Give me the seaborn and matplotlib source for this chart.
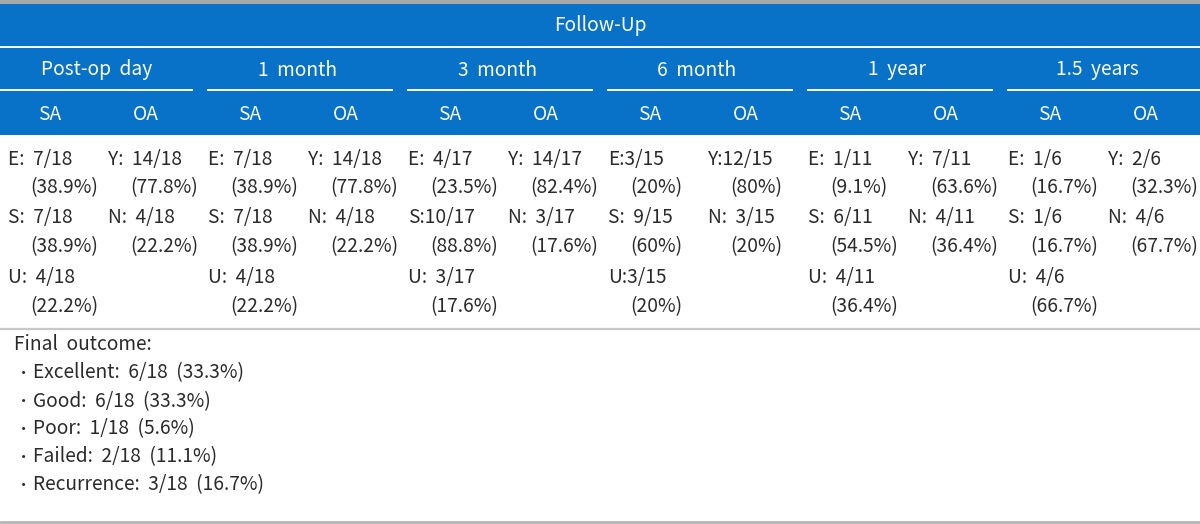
import matplotlib
matplotlib.use("Agg")
import matplotlib.pyplot as plt
import seaborn as sns

# ---------------- data ----------------
title = "Follow-Up"
periods = ["Post-op  day", "1  month", "3  month", "6  month", "1  year", "1.5  years"]
groups = ["SA", "OA"]

sa_cells = [
    ["E:  7/18", "(38.9%)", "S:  7/18", "(38.9%)", "U:  4/18", "(22.2%)"],
    ["E:  7/18", "(38.9%)", "S:  7/18", "(38.9%)", "U:  4/18", "(22.2%)"],
    ["E:  4/17", "(23.5%)", "S:10/17", "(88.8%)", "U:  3/17", "(17.6%)"],
    ["E:3/15", "(20%)", "S:  9/15", "(60%)", "U:3/15", "(20%)"],
    ["E:  1/11", "(9.1%)", "S:  6/11", "(54.5%)", "U:  4/11", "(36.4%)"],
    ["E:  1/6", "(16.7%)", "S:  1/6", "(16.7%)", "U:  4/6", "(66.7%)"],
]
oa_cells = [
    ["Y:  14/18", "(77.8%)", "N:  4/18", "(22.2%)"],
    ["Y:  14/18", "(77.8%)", "N:  4/18", "(22.2%)"],
    ["Y:  14/17", "(82.4%)", "N:  3/17", "(17.6%)"],
    ["Y:12/15", "(80%)", "N:  3/15", "(20%)"],
    ["Y:  7/11", "(63.6%)", "N:  4/11", "(36.4%)"],
    ["Y:  2/6", "(32.3%)", "N:  4/6", "(67.7%)"],
]
final_title = "Final  outcome:"
final_items = [
    "Excellent:  6/18  (33.3%)",
    "Good:  6/18  (33.3%)",
    "Poor:  1/18  (5.6%)",
    "Failed:  2/18  (11.1%)",
    "Recurrence:  3/18  (16.7%)",
]

# ---------------- style ----------------
sns.set_theme(style="white")
plt.rcParams["font.family"] = ["Noto Sans CJK KR", "DejaVu Sans"]

BLUE = "#0872C9"
TXT = "#2a2a2a"
GRAY = "#b4b4b4"
FS = 13.8
FW = "light"

fig = plt.figure(figsize=(12, 5.24), dpi=100)
ax = fig.add_axes([0, 0, 1, 1])
ax.set_xlim(0, 1200)
ax.set_ylim(524, 0)
ax.axis("off")

# header background
ax.axhspan(4, 135, color=BLUE, lw=0)
ax.axhspan(0, 4, color="#a9a9a9", lw=0)
ax.axhline(46.5, color="white", lw=1.4)
ncol = len(periods)
w = 1200 / ncol
for i, p in enumerate(periods):
    x0 = i * w + (0 if i == 0 else 7)
    x1 = (i + 1) * w - (0 if i == ncol - 1 else 7)
    ax.plot([x0, x1], [90, 90], color="white", lw=1.4, solid_capstyle="butt")
    ax.text(i * w + w / 2 - 3, 70, p, color="white", fontsize=FS, fontweight=FW,
            ha="center", va="center")
    for j, g in enumerate(groups):
        cx = i * w + (50 if j == 0 else 146)
        ax.text(cx, 114, g, color="white", fontsize=FS, fontweight=FW,
                ha="center", va="center")
ax.text(600, 25, title, color="white", fontsize=FS, fontweight=FW,
        ha="center", va="center")

# body
row_y = [159, 188, 218, 247, 278, 307]
for i in range(ncol):
    for k, s in enumerate(sa_cells[i]):
        x = i * w + (8 if k % 2 == 0 else 30)
        ax.text(x, row_y[k], s, color=TXT, fontsize=FS, fontweight=FW,
                ha="left", va="center")
    for k, s in enumerate(oa_cells[i]):
        x = i * w + 100 + (8 if k % 2 == 0 else 30)
        ax.text(x, row_y[k], s, color=TXT, fontsize=FS, fontweight=FW,
                ha="left", va="center")

ax.axhline(329, color="#c8c8c8", lw=1.6)

# final outcome
ax.text(14, 345, final_title, color=TXT, fontsize=FS, fontweight=FW,
        ha="left", va="center")
fy = [373, 402, 429, 457, 485]
for y, s in zip(fy, final_items):
    ax.text(16, y, "・", color=TXT, fontsize=FS * 0.8, ha="left", va="center")
    ax.text(33, y, s, color=TXT, fontsize=FS, fontweight=FW,
            ha="left", va="center")

ax.axhline(522, color=GRAY, lw=2)

fig.savefig("out.png", dpi=100)
